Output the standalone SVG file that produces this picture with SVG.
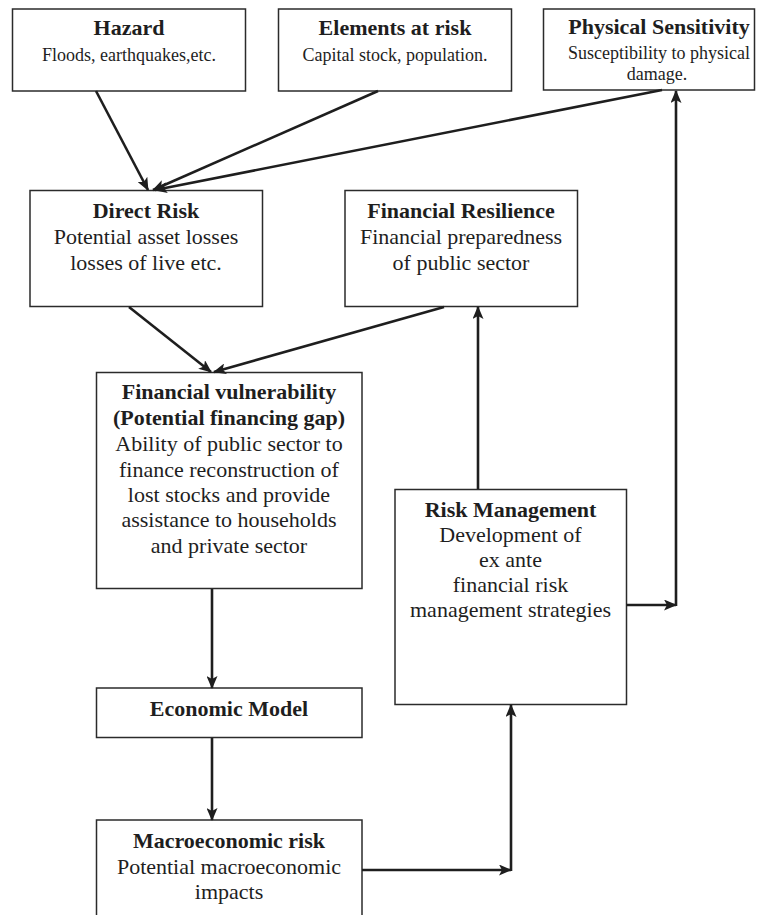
<svg xmlns="http://www.w3.org/2000/svg" width="764" height="915" viewBox="0 0 764 915">
<style>
.box{fill:#fff;stroke:#2b2b2b;stroke-width:1.5}
text{font-family:"Liberation Serif","Times New Roman",serif;fill:#1e1e1e;text-anchor:middle}
.t{font-weight:bold;font-size:22px}
.s{font-size:18px}
.b{font-size:22px}
.c{fill:none;stroke:#1e1e1e;stroke-width:2.6}
</style>
<defs>
<marker id="ah" markerUnits="userSpaceOnUse" markerWidth="13" markerHeight="11" viewBox="0 0 13 11" refX="12" refY="5.5" orient="auto">
<path d="M0,0 L13,5.5 L0,11 L3,5.5 Z" fill="#1e1e1e"/>
</marker>
</defs>
<rect width="764" height="915" fill="#fff"/>
<g id="hazard">
<rect class="box" x="12.5" y="9" width="233" height="82"/>
<text class="t" x="129" y="35">Hazard</text>
<text class="s" x="129" y="61">Floods, earthquakes,etc.</text>
</g>
<g id="elements">
<rect class="box" x="278.5" y="9" width="233" height="82"/>
<text class="t" x="395" y="35">Elements at risk</text>
<text class="s" x="395" y="61">Capital stock, population.</text>
</g>
<g id="physical">
<rect class="box" x="543.5" y="9" width="211" height="81"/>
<text class="t" x="659" y="34">Physical Sensitivity</text>
<text class="s" x="659" y="59">Susceptibility to physical</text>
<text class="s" x="657" y="80">damage.</text>
</g>
<g id="direct">
<rect class="box" x="30" y="190.5" width="232.5" height="116"/>
<text class="t" x="146" y="218">Direct Risk</text>
<text class="b" x="146" y="244">Potential asset losses</text>
<text class="b" x="146" y="270">losses of live etc.</text>
</g>
<g id="resilience">
<rect class="box" x="345" y="190.5" width="232.5" height="116"/>
<text class="t" x="461" y="218">Financial Resilience</text>
<text class="b" x="461" y="244">Financial preparedness</text>
<text class="b" x="461" y="269.5">of public sector</text>
</g>
<g id="vulnerability">
<rect class="box" x="96.5" y="372.5" width="265.5" height="216"/>
<text class="t" x="229" y="399">Financial vulnerability</text>
<text class="t" x="229" y="425">(Potential financing gap)</text>
<text class="b" x="229" y="451">Ability of public sector to</text>
<text class="b" x="229" y="477">finance reconstruction of</text>
<text class="b" x="229" y="502">lost stocks and provide</text>
<text class="b" x="229" y="527">assistance to households</text>
<text class="b" x="229" y="553">and private sector</text>
</g>
<g id="riskmgmt">
<rect class="box" x="395" y="489.5" width="231.5" height="215"/>
<text class="t" x="510.5" y="517">Risk Management</text>
<text class="b" x="510.5" y="542">Development of</text>
<text class="b" x="510.5" y="567">ex ante</text>
<text class="b" x="510.5" y="592">financial risk</text>
<text class="b" x="510.5" y="617">management strategies</text>
</g>
<g id="economic">
<rect class="box" x="96.5" y="688" width="265.5" height="49.5"/>
<text class="t" x="229" y="716">Economic Model</text>
</g>
<g id="macro">
<rect class="box" x="96.5" y="820" width="265.5" height="110"/>
<text class="t" x="229" y="848">Macroeconomic risk</text>
<text class="b" x="229" y="874">Potential macroeconomic</text>
<text class="b" x="229" y="899">impacts</text>
</g>
<g id="connectors">
<line class="c" x1="96" y1="91" x2="148" y2="190" marker-end="url(#ah)"/>
<line class="c" x1="378" y1="91" x2="153" y2="190" marker-end="url(#ah)"/>
<line class="c" x1="662" y1="90" x2="155" y2="190" marker-end="url(#ah)"/>
<line class="c" x1="129" y1="307" x2="211" y2="372" marker-end="url(#ah)"/>
<line class="c" x1="444" y1="307" x2="214" y2="372" marker-end="url(#ah)"/>
<line class="c" x1="478" y1="489" x2="478" y2="307" marker-end="url(#ah)"/>
<line class="c" x1="626.5" y1="605" x2="676" y2="605" marker-end="url(#ah)"/>
<line class="c" x1="676" y1="606" x2="676" y2="91" marker-end="url(#ah)"/>
<line class="c" x1="212" y1="589" x2="212" y2="688" marker-end="url(#ah)"/>
<line class="c" x1="212" y1="738" x2="212" y2="820" marker-end="url(#ah)"/>
<line class="c" x1="362" y1="870" x2="511" y2="870" marker-end="url(#ah)"/>
<line class="c" x1="511" y1="871" x2="511" y2="705" marker-end="url(#ah)"/>
</g>
</svg>
